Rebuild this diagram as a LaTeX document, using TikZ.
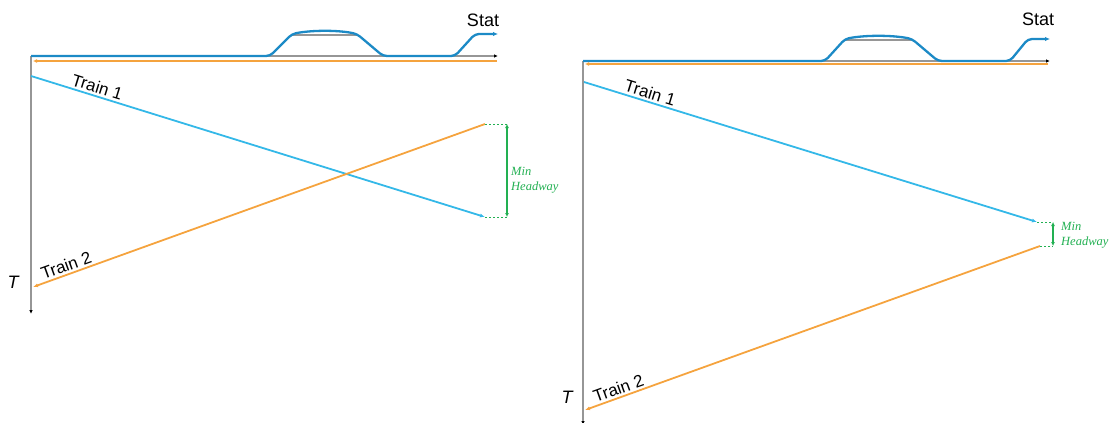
\documentclass[tikz,border=0pt]{standalone}
\usepackage{fontspec}
\setmainfont{Liberation Sans}
\newfontfamily\serifit{Liberation Serif}
\usetikzlibrary{arrows.meta}
\definecolor{trackblue}{RGB}{28,138,198}
\definecolor{trainblue}{RGB}{52,184,232}
\definecolor{trainorange}{RGB}{245,163,62}
\definecolor{mhgreen}{RGB}{34,176,82}
\definecolor{axisgray}{RGB}{150,150,150}
\begin{document}
\begin{tikzpicture}[x=1pt,y=-1pt,
  axisline/.style={draw=axisgray, line width=1.4pt, -{Latex[black,length=4pt,width=3.5pt]}},
  siding/.style={draw=axisgray, line width=1.4pt},
  track/.style={draw=trackblue, line width=2.3pt, rounded corners=4pt, -{Latex[length=5pt,width=4.5pt]}},
  toporange/.style={draw=trainorange, line width=2pt, -{Latex[length=4pt,width=4pt]}},
  trainone/.style={draw=trainblue, line width=1.8pt, -{Latex[length=5pt,width=4pt]}},
  traintwo/.style={draw=trainorange, line width=1.8pt, -{Latex[length=5pt,width=4pt]}},
  dashgreen/.style={draw=mhgreen, line width=1pt, dash pattern=on 2pt off 2pt},
  hwarrow/.style={draw=mhgreen, line width=1.6pt, {Latex[length=4pt,width=4pt]}-{Latex[length=4pt,width=4pt]}},
  lbl/.style={font=\fontsize{17}{20}\selectfont, text=black, inner sep=2pt},
  statlbl/.style={font=\fontsize{18}{21}\selectfont, text=black, inner sep=0pt},
  tlbl/.style={font=\fontsize{18}{21}\selectfont\itshape, text=black, inner sep=0pt},
  mhlbl/.style={font=\serifit\itshape\fontsize{12.5}{15}\selectfont, text=mhgreen, align=left, inner sep=0pt, anchor=west}
]
\useasboundingbox (0,0) rectangle (1109,423);
\clip (0,0) rectangle (1109,423);

% ---------------- left diagram ----------------
\coordinate (L-o) at (31,56);
\coordinate (L-xe) at (498,56);
\coordinate (L-ye) at (31,314);
\draw[axisline] (L-o) -- (L-xe);
\draw[axisline] (L-o) -- (L-ye);
\draw[siding] (292,35) -- (357,35);
\draw[track] (L-o) -- (270,56) -- (292,34) .. controls (312,30) and (338,30) .. (357,34) -- (383,56) -- (455,56) -- (475,34) -- (L-xe |- 0,34);
\coordinate (L-oa) at (497,61);
\coordinate (L-ob) at (33,61);
\draw[toporange] (L-oa) -- (L-ob);
\node[statlbl] (L-stat) at (483,20) {Stat};
\coordinate (L-t1s) at (31,76);
\coordinate (L-t1e) at (485,217);
\coordinate (L-t2s) at (485,124);
\coordinate (L-t2e) at (33,287);
\draw[trainone] (L-t1s) -- node[pos=0.14, sloped, above, lbl] (L-t1lab) {Train 1} (L-t1e);
\draw[traintwo] (L-t2s) -- node[pos=0.92, sloped, above, lbl] (L-t2lab) {Train 2} (L-t2e);
\coordinate (L-g1) at (507,124);
\coordinate (L-g2) at (507,217);
\draw[dashgreen] (L-t2s) -- (L-g1);
\draw[dashgreen] (L-t1e) -- (L-g2);
\draw[hwarrow] (L-g1) -- (L-g2);
\node[mhlbl] (L-mh) at (511,180) {Min\\Headway};
\node[tlbl] (L-T) at (13,282) {T};

% ---------------- right diagram ----------------
\coordinate (R-o) at (583,61);
\coordinate (R-xe) at (1050,61);
\coordinate (R-ye) at (583,425);
\draw[axisline] (R-o) -- (R-xe);
\draw[axisline] (R-o) -- (R-ye);
\draw[siding] (845,40) -- (912,40);
\draw[track] (R-o) -- (825,61) -- (845,39) .. controls (865,35) and (892,35) .. (912,39) -- (938,61) -- (1010,61) -- (1028,39) -- (R-xe |- 0,39);
\coordinate (R-oa) at (1048,64);
\coordinate (R-ob) at (585,64);
\draw[toporange] (R-oa) -- (R-ob);
\node[statlbl] (R-stat) at (1038,19) {Stat};
\coordinate (R-t1s) at (584,82);
\coordinate (R-t1e) at (1037,222);
\coordinate (R-t2s) at (1040,246);
\coordinate (R-t2e) at (585,410);
\draw[trainone] (R-t1s) -- node[pos=0.14, sloped, above, lbl] (R-t1lab) {Train 1} (R-t1e);
\draw[traintwo] (R-t2s) -- node[pos=0.92, sloped, above, lbl] (R-t2lab) {Train 2} (R-t2e);
\coordinate (R-g1) at (1053,222);
\coordinate (R-g2) at (1053,246);
\draw[dashgreen] (R-t1e) -- (R-g1);
\draw[dashgreen] (R-t2s) -- (R-g2);
\draw[hwarrow] (R-g1) -- (R-g2);
\node[mhlbl] (R-mh) at (1061,235) {Min\\Headway};
\node[tlbl] (R-T) at (567,397) {T};
\end{tikzpicture}
\end{document}
